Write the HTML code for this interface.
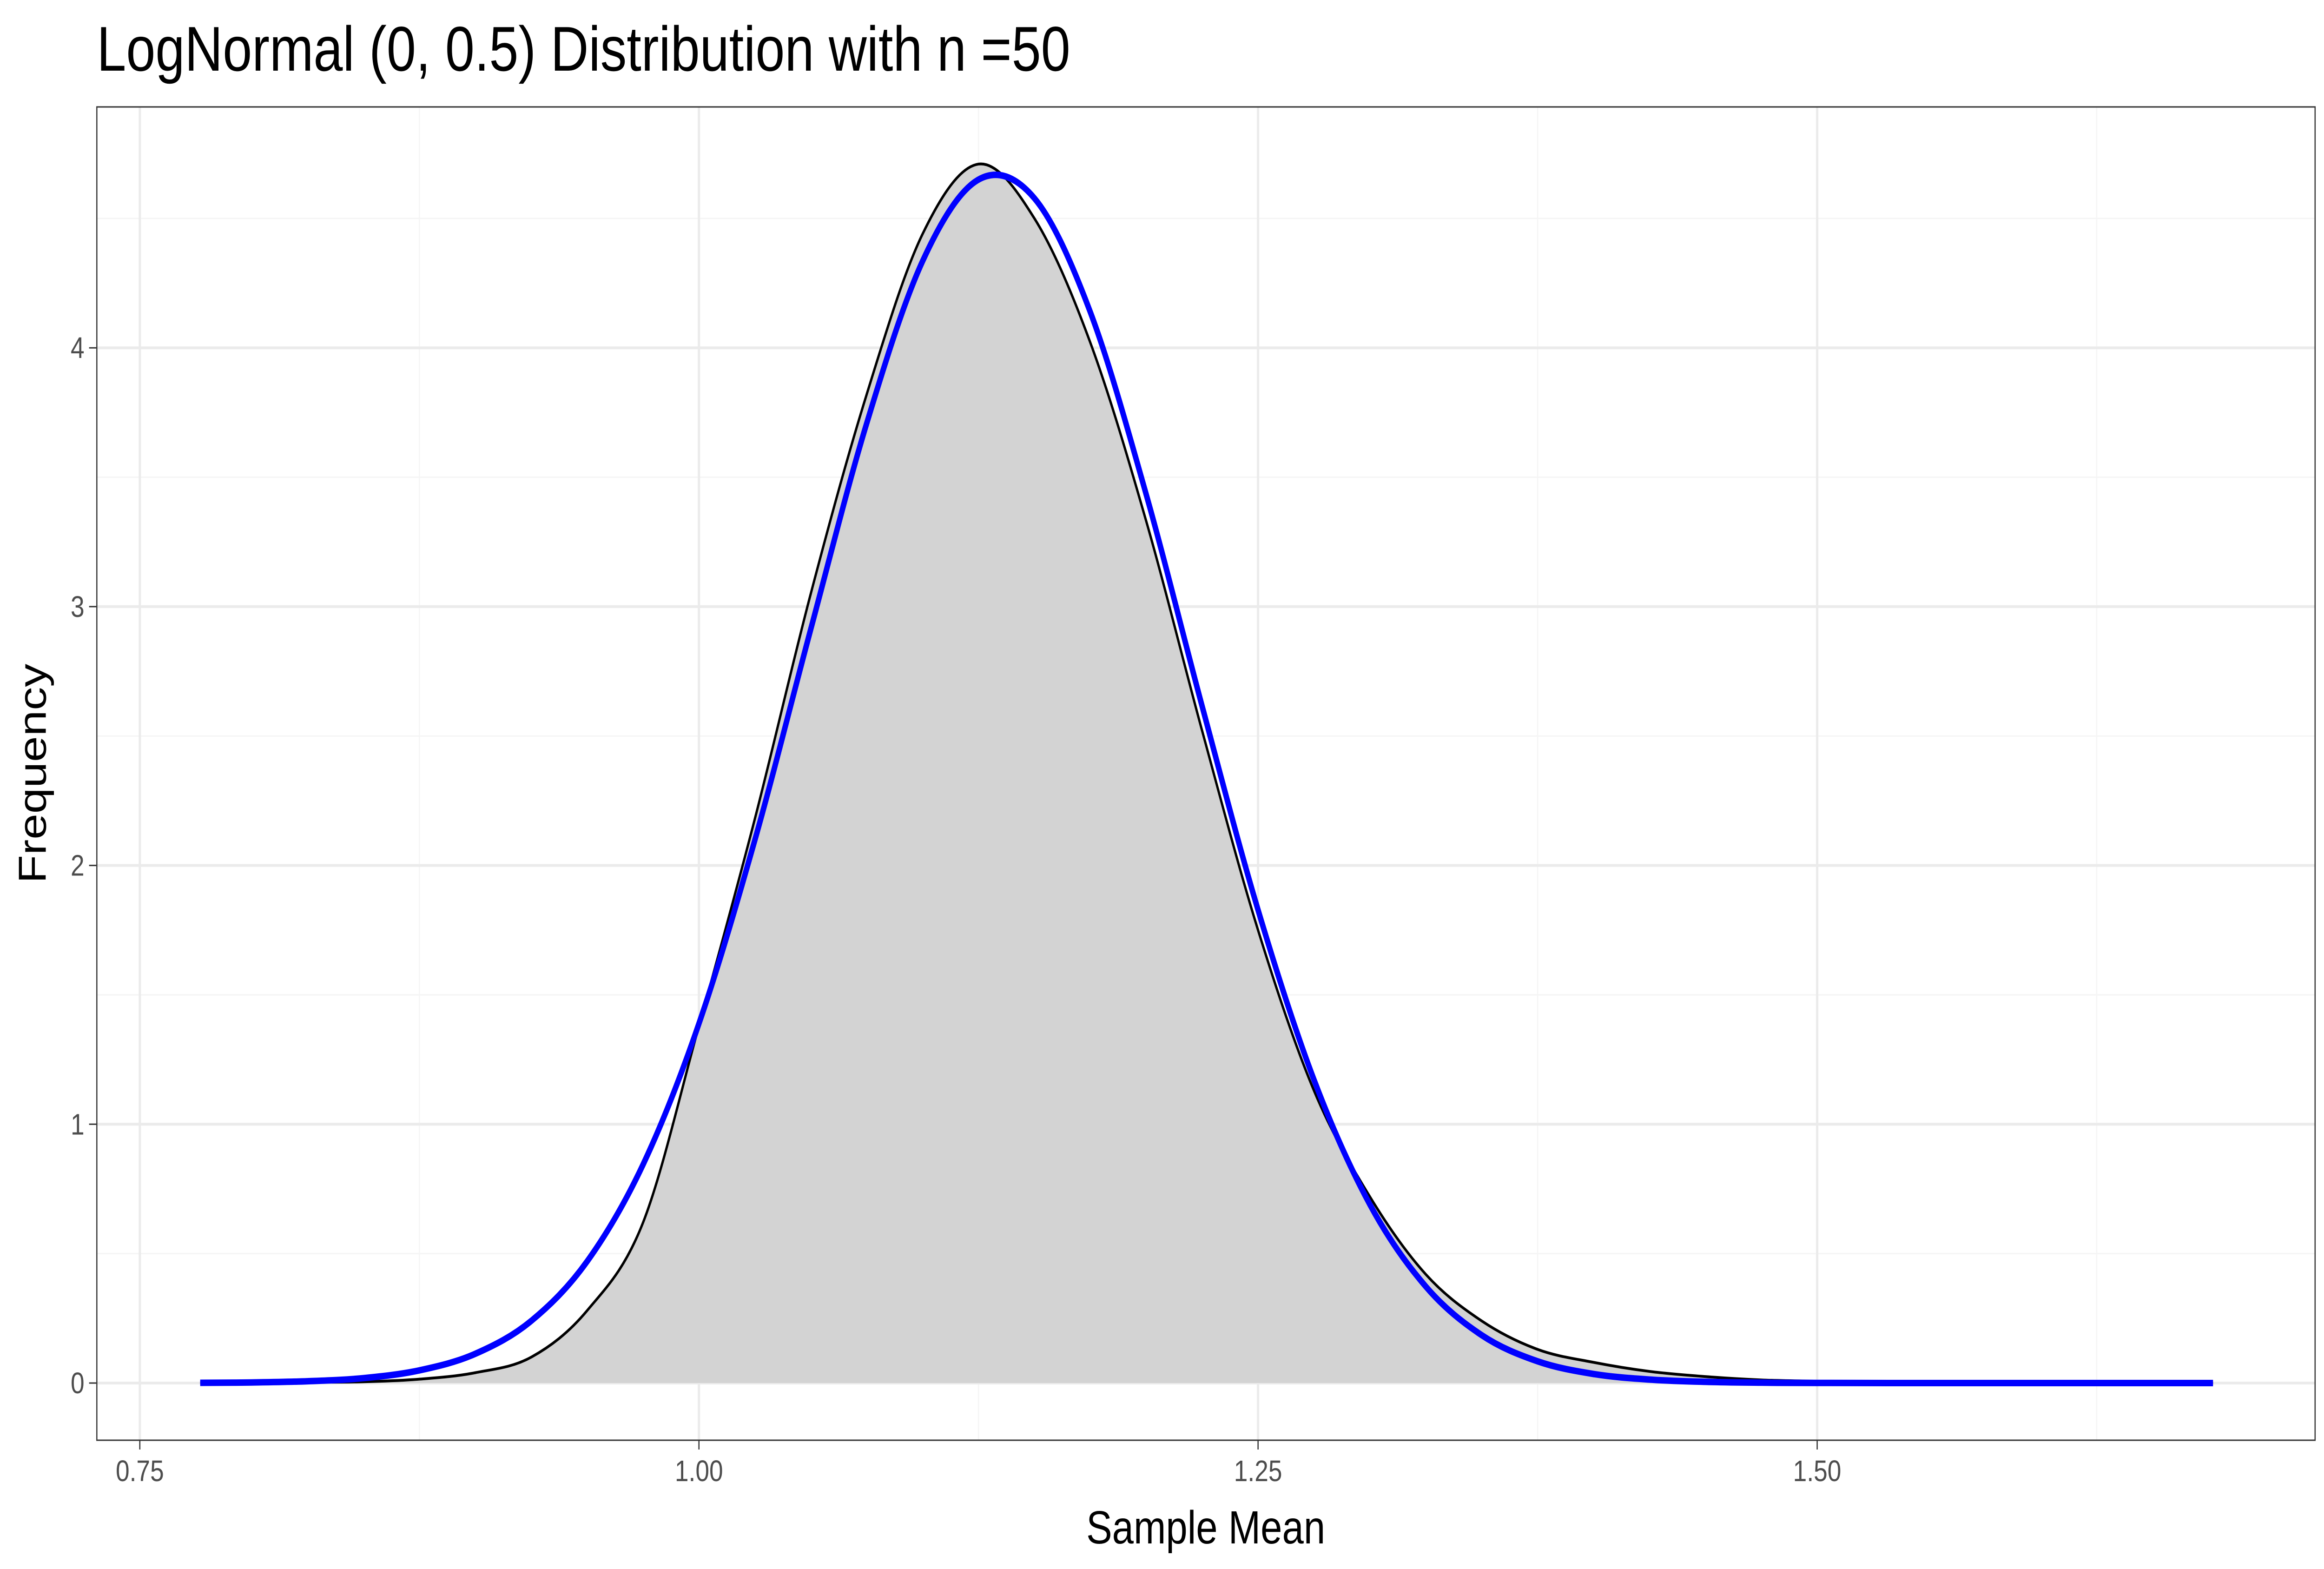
<!DOCTYPE html>
<html><head><meta charset="utf-8"><style>
html,body{margin:0;padding:0;background:#fff;overflow:hidden;width:100%;height:100%;}
svg{display:block;font-family:"Liberation Sans",Arial,sans-serif;width:100vw;height:100vh;}
</style></head><body>
<svg id="chart" viewBox="0 0 6000 3375" preserveAspectRatio="none" xmlns="http://www.w3.org/2000/svg">
<rect x="0" y="0" width="6000" height="3375" fill="#fff"/>
<g id="grid"></g>
<g id="marks"></g>
<rect x="250" y="230" width="5727" height="2868" fill="none" stroke="#333" stroke-width="3"/>
<g id="axes"></g>
<text x="250" y="152" font-size="136" fill="#000">LogNormal (0, 0.5) Distribution with n =50</text>
<text x="3113" y="3320" font-size="100" text-anchor="middle" fill="#000">Sample Mean</text>
<text x="118" y="1664" font-size="100" text-anchor="middle" fill="#000" transform="rotate(-90 118 1664)">Frequency</text>
</svg>
<script>
const xTicks=[0.75,1.00,1.25,1.50];
const xTickLabels=["0.75","1.00","1.25","1.50"];
const xMinor=[0.875,1.125,1.375,1.625];
const yTicks=[0,1,2,3,4];
const yTickLabels=["0","1","2","3","4"];
const yMinor=[0.5,1.5,2.5,3.5,4.5];
const densX=[0.777,0.80,0.825,0.85,0.875,0.90,0.925,0.95,0.975,1.00,1.025,1.05,1.075,1.10,1.125,1.15,1.175,1.20,1.225,1.25,1.275,1.30,1.325,1.35,1.375,1.40,1.425,1.45,1.475,1.50,1.525,1.55,1.60,1.677];
const densY=[0.001,0.002,0.003,0.005,0.015,0.04,0.10,0.28,0.62,1.38,2.18,3.05,3.82,4.44,4.71,4.50,4.02,3.33,2.52,1.75,1.13,0.72,0.42,0.24,0.13,0.08,0.045,0.025,0.012,0.007,0.004,0.002,0.001,0.0];
const normX=[0.777,0.80,0.825,0.85,0.875,0.90,0.925,0.95,0.975,1.00,1.025,1.05,1.075,1.10,1.125,1.15,1.175,1.20,1.225,1.25,1.275,1.30,1.325,1.35,1.375,1.40,1.425,1.45,1.475,1.50,1.55,1.60,1.677];
const normY=[0.0008,0.0023,0.007,0.019,0.049,0.113,0.240,0.470,0.844,1.389,2.098,2.913,3.708,4.335,4.650,4.578,4.138,3.433,2.615,1.828,1.172,0.690,0.373,0.185,0.084,0.035,0.0135,0.0047,0.0015,0.0004,0,0,0];

const NS="http://www.w3.org/2000/svg";
const PL=250,PR=5977,PT=230,PB=3098;
function sx(v){return 361+(v-0.75)/0.25*1443.5;}
function sy(v){return 2975-v*556.7;}
function mk(tag,attrs,parent){const e=document.createElementNS(NS,tag);for(const k in attrs)e.setAttribute(k,attrs[k]);parent.appendChild(e);return e;}
const grid=document.getElementById('grid'),marks=document.getElementById('marks'),axes=document.getElementById('axes');
mk('rect',{x:PL,y:PT,width:PR-PL,height:PB-PT,fill:'#fff'},grid);
xMinor.forEach(v=>{const l=mk('line',{x1:sx(v),x2:sx(v),y1:PT,y2:PB,stroke:'#F5F5F5','stroke-width':3},grid);

});
yMinor.forEach(v=>{const l=mk('line',{x1:PL,x2:PR,y1:sy(v),y2:sy(v),stroke:'#F5F5F5','stroke-width':3},grid);

});
xTicks.forEach((v,i)=>{const l=mk('line',{x1:sx(v),x2:sx(v),y1:PT,y2:PB,stroke:'#EBEBEB','stroke-width':6},grid);


const t=mk('line',{x1:sx(v),x2:sx(v),y1:PB,y2:PB+20,stroke:'#333','stroke-width':3},axes);


const tx=mk('text',{x:sx(v),y:PB+88,'font-size':64,'text-anchor':'middle',fill:'#4D4D4D'},axes);tx.textContent=xTickLabels[i];

});
yTicks.forEach((v,i)=>{const l=mk('line',{x1:PL,x2:PR,y1:sy(v),y2:sy(v),stroke:'#EBEBEB','stroke-width':6},grid);


const t=mk('line',{x1:PL-20,x2:PL,y1:sy(v),y2:sy(v),stroke:'#333','stroke-width':3},axes);


const tx=mk('text',{x:PL-32,y:sy(v)+22,'font-size':64,'text-anchor':'end',fill:'#4D4D4D'},axes);tx.textContent=yTickLabels[i];

});
function smooth(xs,ys){const p=xs.map((x,i)=>[sx(x),sy(ys[i])]);let d='M'+p[0][0]+','+p[0][1];
for(let i=0;i<p.length-1;i++){const p0=p[Math.max(0,i-1)],p1=p[i],p2=p[i+1],p3=p[Math.min(p.length-1,i+2)];
const c1x=p1[0]+(p2[0]-p0[0])/6,c1y=p1[1]+(p2[1]-p0[1])/6,c2x=p2[0]-(p3[0]-p1[0])/6,c2y=p2[1]-(p3[1]-p1[1])/6;
d+=' C'+c1x+','+Math.min(c1y,sy(0))+' '+c2x+','+Math.min(c2y,sy(0))+' '+p2[0]+','+p2[1];}return d;}
const dd=smooth(densX,densY);
const area=mk('path',{d:dd+' L'+sx(densX[densX.length-1])+','+sy(0)+' L'+sx(densX[0])+','+sy(0)+' Z',fill:'#D3D3D3',stroke:'none'},marks);


const line=mk('path',{d:dd,fill:'none',stroke:'#000','stroke-width':6},marks);


const blue=mk('path',{d:smooth(normX,normY),fill:'none',stroke:'#0000FF','stroke-width':14,'stroke-linejoin':'round'},marks);


</script>
</body></html>
